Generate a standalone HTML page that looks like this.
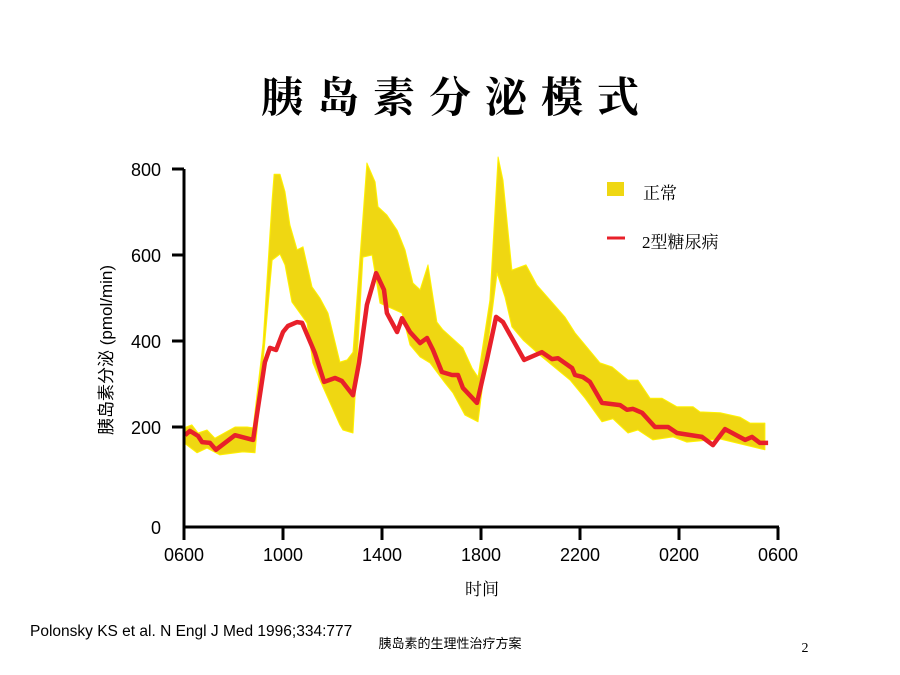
<!DOCTYPE html>
<html><head><meta charset="utf-8"><style>
html,body{margin:0;padding:0;background:#fff;}
svg{display:block;}
</style></head><body>
<svg id="chart" width="900" height="675" viewBox="0 0 900 675" xmlns="http://www.w3.org/2000/svg">
<text x="457" y="112" text-anchor="middle" font-family="'Liberation Serif','Noto Serif CJK SC',serif" font-weight="bold" font-size="42" letter-spacing="14">胰岛素分泌模式</text>
<g id="band"></g>
<g id="line"></g>
<g id="axes"></g>
<text transform="translate(112,350) rotate(-90)" text-anchor="middle" font-family="'Liberation Sans','Noto Sans CJK SC',sans-serif" font-size="17">胰岛素分泌 (pmol/min)</text>
<text x="482" y="595" text-anchor="middle" font-family="'Liberation Serif','Noto Serif CJK SC',serif" font-size="17">时间</text>
<g>
<rect x="607" y="182" width="17" height="14" fill="#efd712"/>
<text x="643" y="199" font-family="'Liberation Serif','Noto Serif CJK SC',serif" font-size="17">正常</text>
<line x1="607" y1="238" x2="625" y2="238" stroke="#e8202a" stroke-width="3"/>
<text x="642" y="248" font-family="'Liberation Serif','Noto Serif CJK SC',serif" font-size="17">2型糖尿病</text>
</g>
<text x="30" y="636" font-family="'Liberation Sans',sans-serif" font-size="15.5">Polonsky KS et al. N Engl J Med 1996;334:777</text>
<text x="450" y="648" text-anchor="middle" font-family="'Liberation Sans','Noto Sans CJK SC',sans-serif" font-size="13">胰岛素的生理性治疗方案</text>
<text x="805" y="652" text-anchor="middle" font-family="'Liberation Serif',serif" font-size="14">2</text>
</svg>
<script>
// hours since 06:00
const redHours = [0.04,0.24,0.57,0.73,1.05,1.29,2.06,2.79,3.27,3.47,3.72,4.0,4.2,4.57,4.77,5.29,5.66,6.1,6.38,6.83,7.07,7.39,7.76,8.08,8.2,8.61,8.81,9.13,9.54,9.82,10.06,10.42,10.83,11.07,11.27,11.84,12.24,12.61,12.89,13.74,14.46,14.87,15.11,15.68,15.8,16.12,16.4,16.89,17.62,17.9,18.14,18.51,19.03,19.56,19.92,20.93,21.37,21.86,22.67,22.95,23.27,23.6];
const redValues = [181,191,179,165,163,147,181,170,351,384,379,421,435,444,442,372,305,314,307,274,349,484,558,519,465,421,453,421,395,407,379,328,321,321,291,256,356,456,444,356,374,358,360,337,321,316,305,256,251,240,242,233,200,200,186,177,158,195,170,177,163,163];
const upperHours = [0,0.32,0.57,0.93,1.25,2.06,2.55,2.79,3.19,3.56,3.64,3.88,4.08,4.28,4.57,4.81,5.17,5.49,5.82,6.3,6.59,6.83,7.39,7.72,7.84,8.2,8.61,8.93,9.25,9.54,9.86,10.22,10.46,11.27,11.64,11.88,12.36,12.69,12.89,13.25,13.82,14.26,15.39,15.8,16.81,17.29,17.94,18.34,18.83,19.31,19.92,20.57,20.85,21.66,22.46,22.87,23.47];
const upperValues = [198,205,186,193,174,200,200,198,395,728,788,788,747,670,612,619,526,500,465,351,356,374,814,770,712,693,658,612,535,519,577,444,426,384,337,316,495,828,774,565,577,530,456,419,349,340,309,309,267,267,247,247,235,233,223,209,209];
const lowerHours = [0,0.53,0.93,1.45,2.38,2.87,3.56,3.88,4.08,4.36,4.97,5.21,5.49,6.3,6.42,6.83,7.23,7.6,7.92,8.81,9.13,9.54,9.94,10.55,10.87,11.35,11.88,12.65,12.97,13.25,13.7,14.46,15.6,16.2,16.89,17.33,17.94,18.34,18.95,19.76,20.32,21.66,23.47];
const lowerValues = [163,140,151,135,142,140,588,602,577,491,442,349,309,205,193,186,595,600,488,465,391,363,349,302,279,228,212,558,502,433,402,363,309,267,212,219,186,193,170,177,165,172,147];
const yTicks = [200,400,600,800];
const xTickLabels = ["0600","1000","1400","1800","2200","0200","0600"];

const NS = "http://www.w3.org/2000/svg";
const x0 = 184, pxPerHour = 24.75;
function xs(h){ return x0 + h*pxPerHour; }
function ys(v){ return 513 - v*0.43; }

const band = document.getElementById('band');
let pts = [];
for (let i=0;i<upperHours.length;i++) pts.push(xs(upperHours[i]).toFixed(1)+','+ys(upperValues[i]).toFixed(1));
for (let i=lowerHours.length-1;i>=0;i--) pts.push(xs(lowerHours[i]).toFixed(1)+','+ys(lowerValues[i]).toFixed(1));
const poly = document.createElementNS(NS,'polygon');


poly.setAttribute('points', pts.join(' '));
poly.setAttribute('fill', '#efd712');
poly.setAttribute('stroke', '#fff200');
poly.setAttribute('stroke-width', '1');
poly.setAttribute('stroke-linejoin', 'round');
band.appendChild(poly);

const line = document.getElementById('line');
const pl = document.createElementNS(NS,'polyline');


pl.setAttribute('points', redHours.map((h,i)=>xs(h).toFixed(1)+','+ys(redValues[i]).toFixed(1)).join(' '));
pl.setAttribute('fill', 'none');
pl.setAttribute('stroke', '#e8202a');
pl.setAttribute('stroke-width', '4.5');
pl.setAttribute('stroke-linejoin', 'round');
line.appendChild(pl);

const axes = document.getElementById('axes');
function mk(tag, attrs){ const e=document.createElementNS(NS,tag); for(const k in attrs) e.setAttribute(k,attrs[k]); axes.appendChild(e); return e; }
const yAxis = mk('line',{x1:184,y1:169,x2:184,y2:528,stroke:'#000','stroke-width':3});


const xAxis = mk('line',{x1:183,y1:527,x2:779,y2:527,stroke:'#000','stroke-width':3});


yTicks.forEach(v=>{
  const t = mk('line',{x1:172,y1:ys(v),x2:184,y2:ys(v),stroke:'#000','stroke-width':3});
  
  
  const l = mk('text',{x:161,y:ys(v)+7,'text-anchor':'end','font-family':"'Liberation Sans',sans-serif",'font-size':18});
  
  
  l.textContent = v;
});
const zl = mk('text',{x:161,y:534,'text-anchor':'end','font-family':"'Liberation Sans',sans-serif",'font-size':18});


zl.textContent = '0';
xTickLabels.forEach((s,i)=>{
  const x = xs(i*4);
  const t = mk('line',{x1:x,y1:527,x2:x,y2:540,stroke:'#000','stroke-width':3});
  
  
  const l = mk('text',{x:x,y:561,'text-anchor':'middle','font-family':"'Liberation Sans',sans-serif",'font-size':18});
  
  
  l.textContent = s;
});
</script>
</body></html>
